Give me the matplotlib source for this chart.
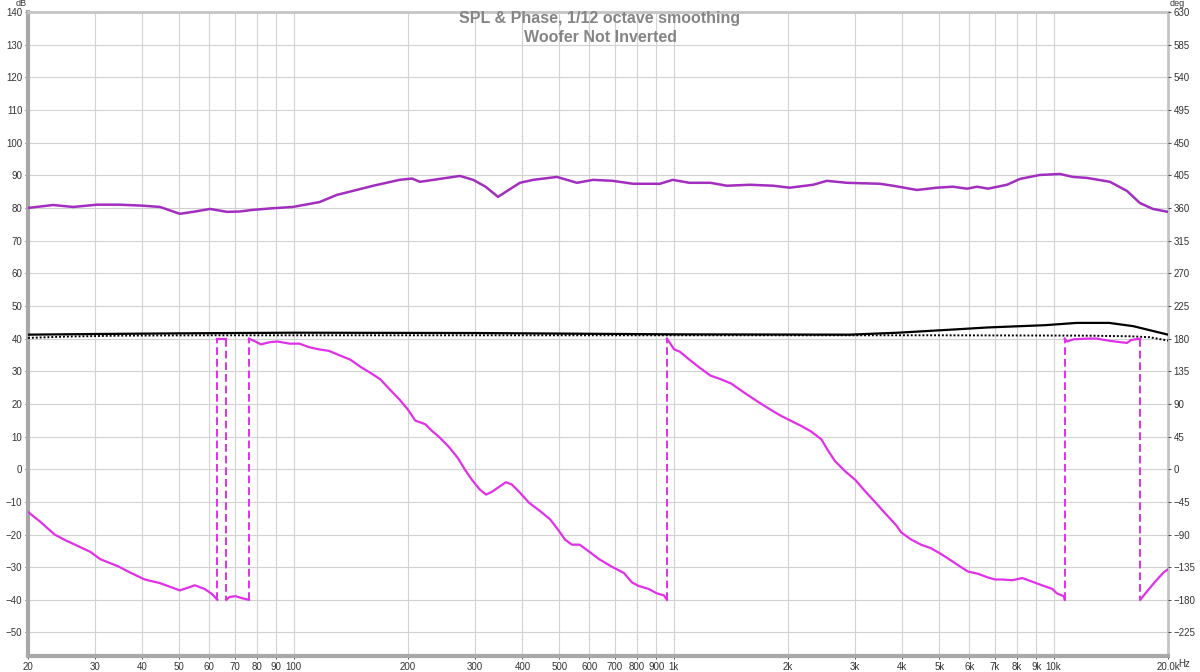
import numpy as np
import matplotlib
matplotlib.use("Agg")
import matplotlib.pyplot as plt
from matplotlib.ticker import FixedLocator, NullLocator

plt.rcParams['font.family'] = ['Liberation Sans', 'DejaVu Sans']

# SPL (dB), purple trace
spl_f = [20, 23.3, 26.3, 30.4, 34.9, 40, 44.5, 50.2, 55, 60.3, 66.8, 72, 78, 88, 99.5, 117, 130,
         143, 162, 190, 205, 215, 233, 274, 297, 320, 345, 394, 427, 493, 557, 614, 692, 782,
         920, 995, 1100, 1250, 1380, 1590, 1830, 2020, 2330, 2530, 2860, 3490, 3780, 4370, 4930,
         5430, 5920, 6290, 6720, 7540, 8160, 9200, 10400, 11240, 12240, 14070, 15600, 16870,
         18250, 20000]
spl_db = [80.0, 80.9, 80.3, 81.0, 81.0, 80.7, 80.3, 78.2, 78.9, 79.7, 78.8, 78.9, 79.4, 79.9, 80.3,
          81.8, 84.0, 85.2, 86.8, 88.6, 89.0, 88.0, 88.6, 89.8, 88.6, 86.5, 83.4, 87.7, 88.6,
          89.5, 87.7, 88.6, 88.3, 87.4, 87.4, 88.6, 87.7, 87.7, 86.8, 87.1, 86.8, 86.2, 87.1,
          88.3, 87.7, 87.4, 86.8, 85.5, 86.2, 86.5, 85.9, 86.5, 85.9, 87.1, 88.9, 90.1, 90.4,
          89.5, 89.2, 88.0, 85.2, 81.5, 79.7, 78.8]

# black solid trace (dB)
blk_f = [20, 30, 50, 100, 300, 1000, 2900, 3900, 5500, 6700, 9500, 11500, 14000, 16200, 20000]
blk_db = [41.2, 41.4, 41.6, 41.8, 41.7, 41.3, 41.2, 41.8, 42.8, 43.4, 44.1, 44.8, 44.8, 43.8, 41.2]

# black dotted trace (dB)
dot_f = [20, 25, 35, 60, 200, 1000, 5000, 12000, 16000, 17900, 20000]
dot_db = [40.2, 40.6, 40.9, 41.0, 41.0, 41.0, 41.0, 40.9, 40.7, 40.4, 39.4]

# phase (deg), wrapped, repeated frequency marks a wrap
ph_f = [20, 21.5, 23.5, 25.1, 26.6, 29.2, 31, 34.6, 37, 40.6, 44.5, 46.7, 50.2, 55, 58.3, 61, 63,
        63, 66.5,
        66.5, 67.9, 70.4, 73.4, 76.3,
        76.3, 79.3, 82, 86.5, 90.6, 97.6, 103.6, 110, 117, 124, 132, 141, 150, 159, 169, 179,
        190, 200, 209, 222, 231, 242, 257, 270, 282, 294, 309, 321, 333, 348, 362, 375, 392,
        416, 446, 473, 496, 518, 540, 566, 601, 637, 686, 740, 777, 810, 860, 903, 944, 960,
        960, 1004, 1038, 1100, 1170, 1250, 1330, 1418, 1510, 1590, 1690, 1800, 1910, 2030,
        2160, 2300, 2450, 2540, 2660, 2830, 3010, 3200, 3400, 3620, 3850, 3970, 4220, 4480,
        4760, 5060, 5380, 5710, 5950, 6320, 6700, 7020, 7330, 7780, 8270, 8790, 9330, 9920,
        10200, 10630, 10700,
        10700, 10850, 11300, 12300, 13000, 14000, 15000, 15600, 16000, 16900,
        16900, 17700, 18500, 19500, 20000]
ph_deg = [-59, -72, -90, -98, -104, -114, -124, -134, -142, -152, -157, -161, -167, -160, -165, -172, -180,
          180, 180,
          -180, -176, -175, -178, -180,
          180, 176, 172, 175, 176, 173, 173, 168, 165, 163, 157, 151, 141, 133, 124, 110,
          96, 82, 67, 62, 53, 44, 30, 16, 0, -14, -28, -35, -31, -24, -18, -21, -31,
          -46, -58, -69, -83, -97, -104, -104, -114, -124, -134, -143, -156, -161, -165, -171, -174, -180,
          180, 165, 162, 151, 140, 129, 124, 118, 108, 100, 91, 82, 74, 67,
          60, 52, 41, 27, 11, -3, -15, -31, -46, -62, -77, -87, -97, -104,
          -109, -117, -126, -135, -141, -144, -149, -152, -152, -153, -150, -155, -160, -165,
          -171, -175, -180,
          180, 176, 179, 180, 180, 177, 175, 174, 178, 180,
          -180, -167, -155, -142, -138]

x_ticks = [20, 30, 40, 50, 60, 70, 80, 90, 100, 200, 300, 400, 500, 600, 700, 800, 900,
           1000, 2000, 3000, 4000, 5000, 6000, 7000, 8000, 9000, 10000, 20000]
x_labels = ['20', '30', '40', '50', '60', '70', '80', '90', '100', '200', '300', '400', '500',
            '600', '700', '800', '900', '1k', '2k', '3k', '4k', '5k', '6k', '7k', '8k', '9k',
            '10k', '20.0k']
db_ticks = list(range(-50, 141, 10))
deg_ticks = list(range(-225, 631, 45))

DB_LO, DB_HI = -57.2, 140

fig = plt.figure(figsize=(12, 6.72), dpi=100)
ax = fig.add_axes([28 / 1200, 16 / 672, 1140 / 1200, 644 / 672])
ax.set_xscale('log')
ax.set_xlim(20, 20000)
ax.set_ylim(DB_LO, DB_HI)

ax.xaxis.set_major_locator(FixedLocator(x_ticks))
ax.xaxis.set_minor_locator(NullLocator())
ax.set_xticklabels(x_labels)
ax.set_yticks(db_ticks)
ax.grid(True, color='#d2d2d2', linewidth=0.8)
ax.set_axisbelow(True)
ax.tick_params(axis='both', labelsize=7, colors='#333333', length=2, width=0.6, pad=2)

for side in ['left', 'bottom']:
    ax.spines[side].set_color('#a8a8a8')
    ax.spines[side].set_linewidth(3)
for side in ['top', 'right']:
    ax.spines[side].set_color('#c4c4c4')
    ax.spines[side].set_linewidth(2)

ax2 = ax.twinx()
ax2.set_ylim(DB_LO * 4.5, DB_HI * 4.5)
ax2.set_yticks(deg_ticks)
ax2.tick_params(axis='y', labelsize=7, colors='#333333', length=2, width=0.6, pad=2)
for side in ['left', 'bottom', 'top', 'right']:
    ax2.spines[side].set_visible(False)

# SPL and black traces
ax.plot(spl_f, spl_db, color='#a22ec0', linewidth=1.8, zorder=4)
ax.plot(blk_f, blk_db, color='black', linewidth=1.6, zorder=3)
ax.plot(dot_f, dot_db, color='black', linewidth=1.4, linestyle=(0, (1, 1)), zorder=3)

# phase: solid segments, dashed vertical lines at wraps
ph_col = '#e030e8'
start = 0
for i in range(1, len(ph_f)):
    if ph_f[i] == ph_f[i - 1]:
        ax2.plot(ph_f[start:i], ph_deg[start:i], color=ph_col, linewidth=1.6, zorder=4)
        ax2.plot([ph_f[i - 1], ph_f[i]], [ph_deg[i - 1], ph_deg[i]], color=ph_col,
                 linewidth=1.4, linestyle=(0, (4, 2)), zorder=4)
        start = i
ax2.plot(ph_f[start:], ph_deg[start:], color=ph_col, linewidth=1.6, zorder=4)

fig.text(27 / 1200, 1 - 3 / 672, 'dB', fontsize=6.5, color='#333333', ha='right', va='center')
fig.text(1170 / 1200, 1 - 3 / 672, 'deg', fontsize=6.5, color='#333333', ha='left', va='center')
fig.text(1178 / 1200, 1 - 664 / 672, 'Hz', fontsize=7, color='#333333', ha='left', va='center')

fig.text(0.5, 1 - 19 / 672, 'SPL & Phase, 1/12 octave smoothing', ha='center', va='center',
         fontsize=11.5, color='#858585', fontweight='bold', zorder=5)
fig.text(0.5, 1 - 37 / 672, 'Woofer Not Inverted', ha='center', va='center',
         fontsize=11.5, color='#858585', fontweight='bold', zorder=5)

fig.savefig('out.png', dpi=100)
